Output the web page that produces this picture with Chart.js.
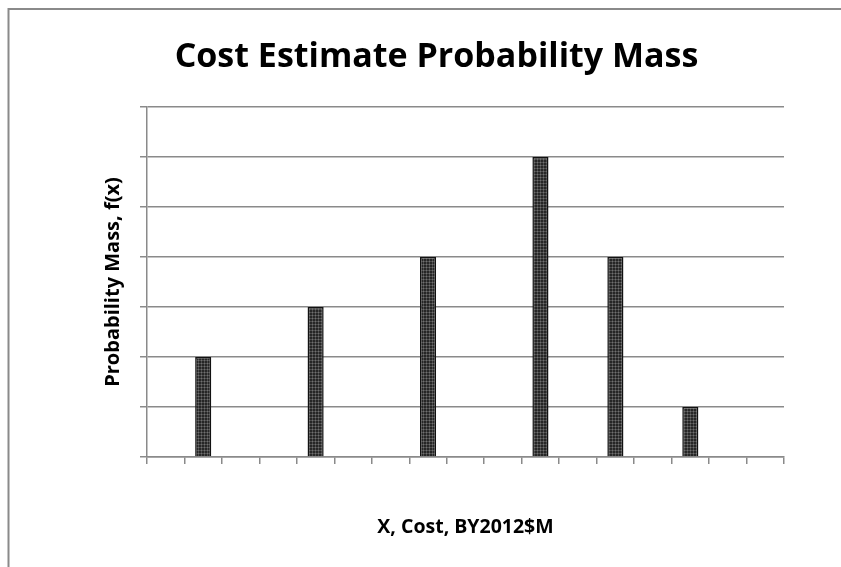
<!DOCTYPE html>
<html>
<head>
<meta charset="utf-8">
<script src="https://cdn.jsdelivr.net/npm/chart.js@4/dist/chart.umd.min.js"></script>
<style>
  html, body { margin: 0; padding: 0; background: #ffffff; }
  #wrap { width: 841px; height: 567px; position: relative; }
</style>
</head>
<body>
<div id="wrap"><canvas id="chart" width="841" height="567"></canvas></div>
<script>
// Cost bins along the x axis (labels are left blank on the axis)
const categories = ['', '', '', '', '', '', '', '', '', '', '', '', '', '', '', '', ''];
// Probability mass f(x) for each cost bin
const probabilityMass = [null, 0.10, null, null, 0.15, null, null, 0.20, null, null, 0.30, null, 0.20, null, 0.05, null, null];
// Value axis ticks (labels hidden, grid lines drawn)
const yTicks = [0, 0.05, 0.10, 0.15, 0.20, 0.25, 0.30, 0.35];

const chartTitle = 'Cost Estimate Probability Mass';
const xTitle = 'X, Cost, BY2012$M';
const yTitle = 'Probability Mass, f(x)';

const FONT = '"Open Sans", Lato, "DejaVu Sans", sans-serif';
const GRID = '#8a8a8a';
const TITLE_SIZE = 34;
const X_SIZE = 19.5;
const Y_SIZE = 20;

// Stippled dark fill for the bars
function makePattern() {
  const c = document.createElement('canvas');
  c.width = 3; c.height = 3;
  const g = c.getContext('2d');
  g.fillStyle = '#262626';
  g.fillRect(0, 0, 3, 3);
  g.fillStyle = '#4c4c4c';
  g.fillRect(0, 0, 3, 1);
  g.fillRect(0, 0, 1, 3);
  g.fillStyle = '#707070';
  g.fillRect(0, 0, 1, 1);
  return g.createPattern(c, 'repeat');
}

// White background and the outer frame of the chart object
const framePlugin = {
  id: 'frame',
  beforeDraw(chart) {
    const ctx = chart.ctx;
    ctx.save();
    ctx.fillStyle = '#ffffff';
    ctx.fillRect(0, 0, chart.width, chart.height);
    ctx.strokeStyle = '#8a8a8a';
    ctx.lineWidth = 2;
    ctx.strokeRect(8.5, 9, chart.width + 20, chart.height + 20);
    ctx.restore();
  }
};

new Chart(document.getElementById('chart'), {
  type: 'bar',
  data: {
    labels: categories,
    datasets: [{
      data: probabilityMass,
      backgroundColor: makePattern(),
      borderColor: '#111111',
      borderWidth: 1.5,
      categoryPercentage: 1.0,
      barPercentage: 0.43
    }]
  },
  plugins: [framePlugin],
  options: {
    responsive: false,
    animation: false,
    layout: { padding: { left: 89, right: 57, top: 0, bottom: 0 } },
    plugins: {
      legend: { display: false },
      tooltip: { enabled: false },
      title: {
        display: true,
        text: chartTitle,
        color: '#000000',
        font: { family: FONT, size: TITLE_SIZE, weight: 'bold', lineHeight: 1.2 },
        padding: { top: 57 - TITLE_SIZE * 0.6, bottom: 107 - 57 - TITLE_SIZE * 0.6 }
      }
    },
    scales: {
      x: {
        offset: true,
        grid: {
          offset: true,
          drawOnChartArea: false,
          drawTicks: true,
          tickLength: 7,
          color: GRID,
          lineWidth: 1.5
        },
        border: { display: true, color: GRID, width: 1.5 },
        ticks: { display: false },
        title: {
          display: true,
          text: xTitle,
          color: '#000000',
          font: { family: FONT, size: X_SIZE, weight: 'bold', lineHeight: 1.2 },
          padding: { top: 0, bottom: 567 - 527.5 - X_SIZE * 0.6 }
        },
        afterFit(scale) { scale.height = 110; }
      },
      y: {
        min: yTicks[0],
        max: yTicks[yTicks.length - 1],
        afterBuildTicks(scale) { scale.ticks = yTicks.map(v => ({ value: v })); },
        grid: {
          drawOnChartArea: true,
          drawTicks: true,
          tickLength: 7,
          color: GRID,
          lineWidth: 1.5
        },
        border: { display: true, color: GRID, width: 1.5 },
        ticks: { display: false },
        title: {
          display: true,
          text: yTitle,
          color: '#000000',
          font: { family: FONT, size: Y_SIZE, weight: 'bold', lineHeight: 1.2 },
          padding: { top: 113 - 89 - Y_SIZE * 0.6, bottom: 0 }
        },
        afterFit(scale) { scale.width = 147 - 89; }
      }
    }
  }
});
</script>
</body>
</html>
